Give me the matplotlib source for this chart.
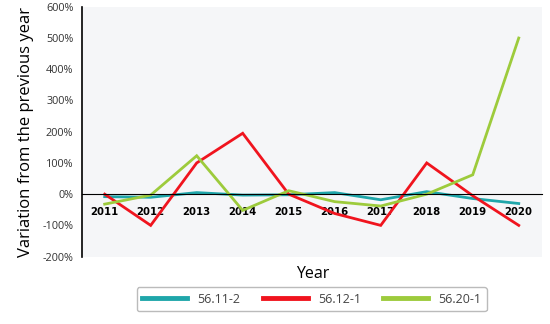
import numpy as np
import matplotlib
matplotlib.use("Agg")
import matplotlib.pyplot as plt
from matplotlib.ticker import FuncFormatter

years = ["2011", "2012", "2013", "2014", "2015", "2016", "2017", "2018", "2019", "2020"]
s_5611 = [-8, -10, 5, -3, -2, 5, -18, 8, -14, -30]
s_5612 = [0, -100, 100, 195, 0, -62, -100, 100, -5, -100]
s_5620 = [-32, -3, 123, -52, 11, -24, -38, 0, 62, 500]
labels = ["56.11-2", "56.12-1", "56.20-1"]
colors = ["#1fa6aa", "#f0141e", "#9dcb3c"]

plt.rcParams['font.family'] = ['Open Sans', 'DejaVu Sans']

fig = plt.figure(figsize=(5.5, 3.24), dpi=100)
ax = fig.add_axes([0.1485, 0.208, 0.8365, 0.771])
ax.set_facecolor("#f5f6f8")

x = np.arange(len(years))
for ys, lab, c in zip([s_5611, s_5612, s_5620], labels, colors):
    ax.plot(x, ys, color=c, lw=2.0, label=lab, solid_joinstyle='miter')

ax.set_xlim(-0.5, len(years) - 0.5)
ax.set_ylim(-200, 600)
ax.set_yticks(range(-200, 601, 100))
ax.yaxis.set_major_formatter(FuncFormatter(lambda v, p: f"{int(v)}%"))
ax.tick_params(axis='y', length=0, pad=6, labelsize=7.8, labelcolor="#333333")

# category labels sit just under the zero line
ax.spines['bottom'].set_position(('data', 0))
ax.spines['bottom'].set_linewidth(0.8)
ax.set_xticks(x)
ax.set_xticklabels(years, fontweight='bold', fontsize=7.3, family='DejaVu Sans')
ax.tick_params(axis='x', length=0, pad=9)
for s in ['top', 'right']:
    ax.spines[s].set_visible(False)
ax.spines['left'].set_linewidth(1.2)

ax.set_ylabel("Variation from the previous year", fontsize=12, labelpad=6)
fig.text(0.569, 0.153, "Year", fontsize=11.5, ha='center', va='center')

leg = fig.legend(loc='center', bbox_to_anchor=(0.567, 0.0765), ncol=3, frameon=True,
                 fontsize=9, handlelength=3.6, columnspacing=1.8, borderpad=0.45,
                 fancybox=True)
leg.get_frame().set_edgecolor("#aaaaaa")
for t in leg.get_texts():
    t.set_color("#444444")
for h in leg.get_lines():
    h.set_linewidth(3.5)

fig.savefig("out.png", dpi=100)
